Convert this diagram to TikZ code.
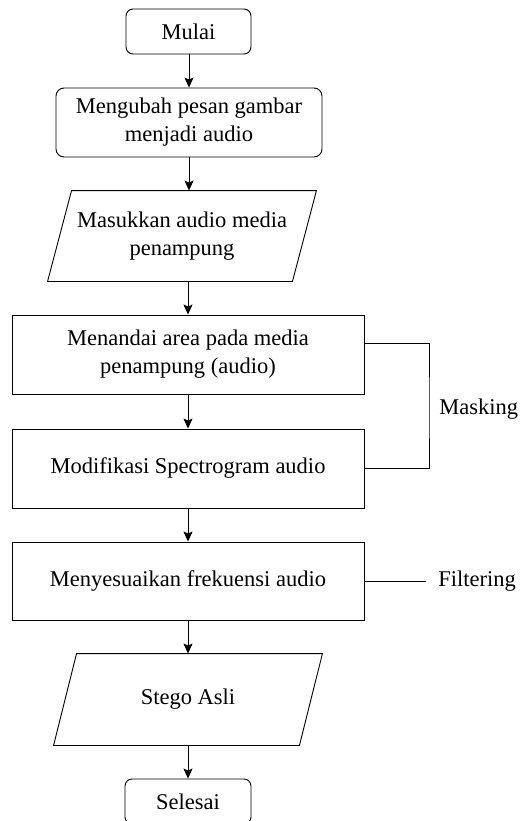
\documentclass[tikz,border=0pt]{standalone}
\usepackage{fontspec}
\setmainfont{Liberation Serif}
\usetikzlibrary{arrows.meta,calc}
\begin{document}
\begin{tikzpicture}[x=1pt,y=-1pt,
  every node/.style={font=\fontsize{22.5}{28}\selectfont, align=center, inner sep=0pt},
  term/.style={draw, rounded corners=7pt, minimum width=125pt, minimum height=45pt},
  proc/.style={draw, minimum width=352pt, minimum height=79pt},
  io/.style={minimum width=244pt, minimum height=90pt},
  arr/.style={-{Stealth[length=10pt,width=9pt,inset=2pt]}},
  line width=0.9pt]
\clip (0,0) rectangle (520,821);
\node[term] (t1) at (188.5,31.5) {Mulai};
\node[draw, rounded corners=8pt, minimum width=266pt, minimum height=69pt] (b2) at (189,122.5) {Mengubah pesan gambar\\menjadi audio};
\node[io] (io1) at (182,236) {Masukkan audio media\\penampung};
\draw ($(io1.north west)+(12,0)$) -- ($(io1.north east)+(12,0)$) -- ($(io1.south east)+(-12,0)$) -- ($(io1.south west)+(-12,0)$) -- cycle;
\node[proc] (b3) at (188,354.5) {Menandai area pada media\\penampung (audio)};
\node[proc] (b4) at (188,468.5) {Modifikasi Spectrogram audio};
\node[proc, minimum height=78pt] (b5) at (188,581) {Menyesuaikan frekuensi audio};
\node[io, minimum width=245pt, minimum height=91pt] (io2) at (188,699.5) {Stego Asli};
\draw ($(io2.north west)+(11.5,0)$) -- ($(io2.north east)+(11.5,0)$) -- ($(io2.south east)+(-11.5,0)$) -- ($(io2.south west)+(-11.5,0)$) -- cycle;
\node[term, minimum width=126pt] (t2) at (188,801.5) {Selesai};
\node[anchor=west] (msk) at (439,409) {Masking};
\node[anchor=west] (flt) at (438,581) {Filtering};
\coordinate (mk) at (429,409);
\draw[arr] (t1.south) -- (b2.south |- t1.south) -- (b2.north);
\draw[arr] (b2.south) -- (b2.south |- io1.north);
\draw[arr] (b3.north |- io1.south) -- (b3.north);
\draw[arr] (b3.south) -- (b4.north);
\draw[arr] (b4.south) -- (b5.north);
\draw[arr] (b5.south) -- (io2.north);
\draw[arr] (io2.south) -- (t2.north);
\draw (b3.east |- 0,343) -| (mk) |- (b4.east);
\draw (b5.east) -- ([xshift=-12pt]flt.west);
\end{tikzpicture}
\end{document}
